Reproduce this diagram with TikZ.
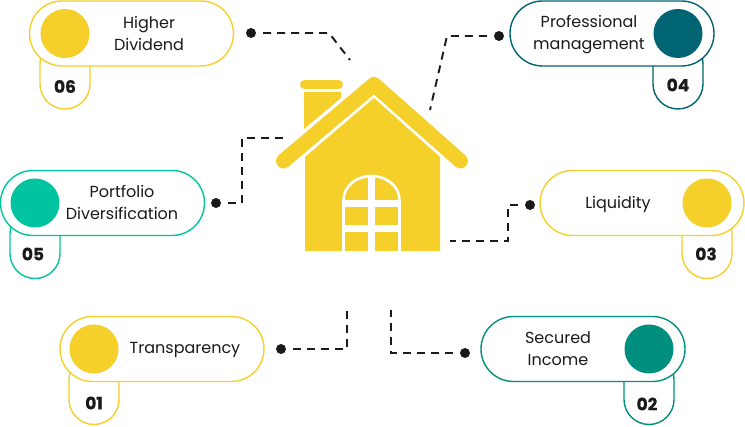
\documentclass[tikz,border=0pt]{standalone}
\usepackage{fontspec}
\setmainfont{Poppins}
\newfontfamily\numfont[FakeBold=0.6]{Poppins Bold}
\definecolor{sun}{HTML}{F5CF2A}
\definecolor{mint}{HTML}{00C4A0}
\definecolor{petrol}{HTML}{006472}
\definecolor{jade}{HTML}{008F7F}
\definecolor{ink}{HTML}{1A1A1A}
\begin{document}
\begin{tikzpicture}[x=1pt,y=-1pt,line cap=butt,line join=miter,
    pill/.style={draw=#1,line width=1.4pt,fill=white,rectangle,rounded corners=32.5pt,minimum width=204pt,minimum height=65pt,inner sep=0pt},
    tabbox/.style={draw=#1,line width=1.4pt,fill=white,rectangle,rounded corners=25pt,minimum width=50pt,minimum height=70pt,inner sep=0pt},
    disc/.style={circle,fill=#1,minimum size=49pt,inner sep=0pt},
    lab/.style={align=center,inner sep=0pt,text=ink,font=\fontsize{16}{22}\selectfont},
    num/.style={inner sep=0pt,text=ink,font=\fontsize{17}{18}\numfont},
    dot/.style={circle,fill=ink,minimum size=10pt,inner sep=0pt},
    wire/.style={ink,line width=1.9pt,dash pattern=on 8pt off 6pt,shorten <=7pt}]
    \useasboundingbox (0,0) rectangle (745,427);
    % pills with their number tabs
    \foreach \id/\px/\py/\tx/\col/\numtext/\nx/\ny/\labx/\laby/\labtext in {
        six/131.5/33.5/65/sun/06/65/53/149/33.5/{Higher\\Dividend},
        five/102.5/203/35/mint/05/33/51/122/202/{Portfolio\\Diversification},
        one/162/349/94/sun/01/94/54/185/350/{Transparency},
        four/612/33.5/678/petrol/04/678/51.5/589/35/{Professional\\management},
        three/642/203/707/sun/03/706/51/618/204/{Liquidity},
        two/583/349/649/jade/02/647/55/558/349/{Secured\\Income}}{
        \node[tabbox=\col] (tab\id) at (\tx,\py+40.5) {};
        \node[pill=\col] (pill\id) at (\px,\py) {};
        \node[disc=\col] (disc\id) at (\tx,\py) {};
        \node[num] (num\id) at (\nx,\py+\ny) {\numtext};
        \node[lab] (lab\id) at (\labx,\laby) {\labtext};
    }
    % house
    \fill[sun] (304,92) -- (341,92) -- (341,98) -- (304,129) -- cycle;
    \draw[sun,line width=9pt,line cap=round] (304.5,84.5) -- (338.5,84.5);
    \fill[sun] (305,157) -- (374,98) -- (440,157) -- (440,251) -- (305,251) -- cycle;
    \draw[sun,line width=15pt,line cap=round,line join=round] (283.5,161) -- (374,84.5) -- (460.5,161);
    % door
    \begin{scope}[white]
        \draw[line width=2.6pt] (343.5,251) -- (343.5,200) arc[start angle=180,end angle=0,x radius=28,y radius=-24] -- (399.5,251);
        \draw[line width=7pt] (371,176) -- (371,251);
        \draw[line width=6.5pt] (343.5,203.5) -- (399.5,203.5) (343.5,228.5) -- (399.5,228.5);
    \end{scope}
    % connectors
    \coordinate (bendsix) at (329,33);
    \coordinate (endsix) at (350,60);
    \coordinate (bendfour) at (447,36);
    \coordinate (endfour) at (430,110);
    \coordinate (bendfive) at (242,138);
    \coordinate (endfive) at (285,138);
    \coordinate (bendthree) at (508,241);
    \coordinate (endthree) at (450,241);
    \coordinate (endone) at (347,308);
    \coordinate (endtwo) at (391,310);
    \node[dot] (dotsix) at (251,33) {};
    \node[dot] (dotfour) at (499,36) {};
    \node[dot] (dotfive) at (216,203) {};
    \node[dot] (dotthree) at (530,205) {};
    \node[dot] (dotone) at (281,349) {};
    \node[dot] (dottwo) at (465,353) {};
    \draw[wire] (dotsix) -- (bendsix) -- (endsix);
    \draw[wire] (dotfour) -- (bendfour) -- (endfour);
    \draw[wire] (dotfive) -| (bendfive) -- (endfive);
    \draw[wire] (dotthree) -| (bendthree) -- (endthree);
    \draw[wire] (dotone) -| (endone);
    \draw[wire] (dottwo) -| (endtwo);
\end{tikzpicture}
\end{document}
